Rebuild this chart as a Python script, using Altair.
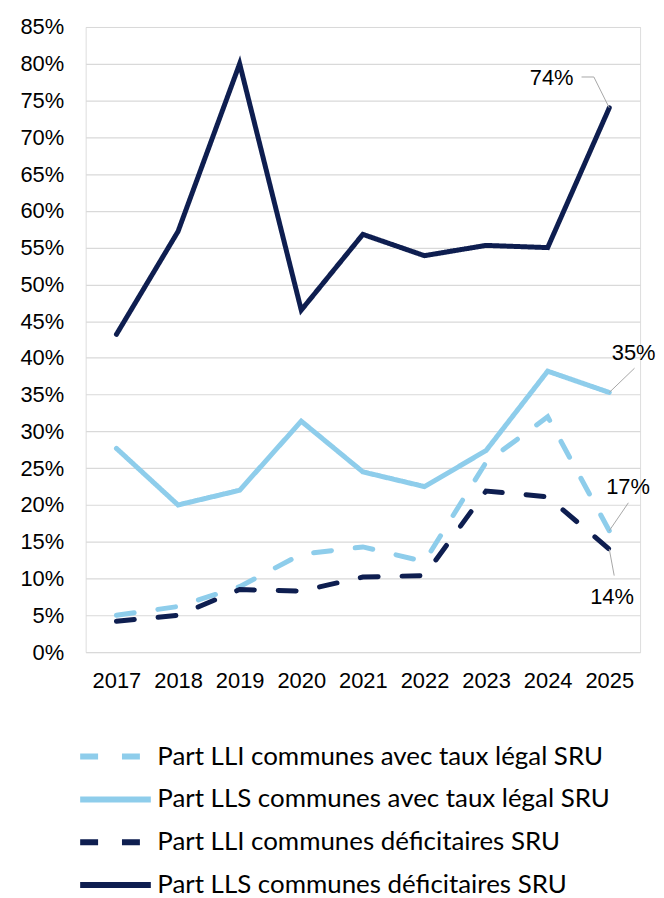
import altair as alt
import pandas as pd

years = [2017, 2018, 2019, 2020, 2021, 2022, 2023, 2024, 2025]
series_names = [
    "Part LLI communes avec taux légal SRU",
    "Part LLS communes avec taux légal SRU",
    "Part LLI communes déficitaires SRU",
    "Part LLS communes déficitaires SRU",
]
lli_legal = [5.0, 6.2, 8.9, 13.3, 14.3, 12.3, 25.8, 32.0, 16.5]
lls_legal = [27.7, 20.0, 22.0, 31.4, 24.5, 22.5, 27.4, 38.2, 35.3]
lli_def = [4.2, 5.0, 8.5, 8.3, 10.2, 10.4, 21.9, 21.1, 14.0]
lls_def = [43.2, 57.2, 80.0, 46.5, 56.8, 53.9, 55.3, 55.0, 74.0]
series_colors = ["#8ecdeb", "#8ecdeb", "#0e1e50", "#0e1e50"]
series_dashes = [[18, 24], [1, 0], [18, 24], [1, 0]]

label_texts = ["74%", "35%", "17%", "14%"]
label_x = [2024.42, 2025.04, 2024.95, 2024.69]
label_y = [78.1, 40.7, 22.4, 7.5]
label_align = ["right", "left", "left", "left"]

leader_group = [0, 0, 0, 1, 1, 2, 2, 3, 3]
leader_x = [2024.55, 2024.75, 2025.0, 2025.0, 2025.41, 2025.0, 2025.31, 2025.0, 2025.08]
leader_y = [78.2, 78.2, 74.0, 35.3, 38.6, 16.5, 20.3, 14.0, 10.4]

y_ticks = [round(i * 0.05, 2) for i in range(18)]

rows = []
for name, vals in zip(series_names, [lli_legal, lls_legal, lli_def, lls_def]):
    for yr, v in zip(years, vals):
        rows.append({"series": name, "year": yr, "value": v / 100})
df = pd.DataFrame(rows)

labels_df = pd.DataFrame({
    "text": label_texts,
    "x": label_x,
    "value": [v / 100 for v in label_y],
    "align": label_align,
})
leaders_df = pd.DataFrame({
    "g": leader_group,
    "x": leader_x,
    "value": [v / 100 for v in leader_y],
    "o": list(range(len(leader_x))),
})

xscale = alt.Scale(domain=[2016.5, 2025.5], nice=False, zero=False)
yscale = alt.Scale(domain=[0, 0.85], nice=False)

x_axis = alt.Axis(values=years, format="d", title=None, grid=False, domain=False,
                  ticks=False, labelPadding=19, labelFontSize=22, labelOverlap=False,
                  labelFont="Liberation Sans", labelColor="#000000")
y_axis = alt.Axis(values=y_ticks, format=".0%", title=None, grid=True, domain=False,
                  ticks=False, labelPadding=22, labelFontSize=22, labelOverlap=False,
                  labelFont="Liberation Sans", labelColor="#000000",
                  gridColor="#d9d9d9", gridWidth=1.2)

lines = alt.Chart(df).mark_line(strokeWidth=5, strokeCap="round", strokeJoin="miter").encode(
    x=alt.X("year:Q", scale=xscale, axis=x_axis),
    y=alt.Y("value:Q", scale=yscale, axis=y_axis),
    color=alt.Color("series:N", scale=alt.Scale(domain=series_names, range=series_colors),
                    legend=alt.Legend(title=None, orient="none", legendX=9, legendY=712,
                                      direction="vertical", symbolType="M-2,0H2",
                                      symbolSize=1260, symbolStrokeWidth=6,
                                      labelFont="Lato", labelFontSize=26,
                                      labelColor="#000000", labelLimit=700,
                                      labelOffset=21, rowPadding=9, padding=0)),
    strokeDash=alt.StrokeDash("series:N", scale=alt.Scale(domain=series_names, range=series_dashes),
                              legend=None),
    detail="series:N",
)

leaders = alt.Chart(leaders_df).mark_line(color="#a6a6a6", strokeWidth=1).encode(
    x=alt.X("x:Q", scale=xscale, axis=x_axis),
    y=alt.Y("value:Q", scale=yscale, axis=y_axis),
    detail="g:N",
    order="o:Q",
)

labels_right = alt.Chart(labels_df[labels_df["align"] == "right"]).mark_text(
    align="right", baseline="middle", font="Liberation Sans", fontSize=22, color="#000000"
).encode(x=alt.X("x:Q", scale=xscale, axis=x_axis),
         y=alt.Y("value:Q", scale=yscale, axis=y_axis), text="text:N")

labels_left = alt.Chart(labels_df[labels_df["align"] == "left"]).mark_text(
    align="left", baseline="middle", font="Liberation Sans", fontSize=22, color="#000000"
).encode(x=alt.X("x:Q", scale=xscale, axis=x_axis),
         y=alt.Y("value:Q", scale=yscale, axis=y_axis), text="text:N")

chart = alt.layer(lines, leaders, labels_right, labels_left).properties(
    width=557, height=628,
    padding={"left": 11, "top": 6, "right": 0, "bottom": 0},
).configure_view(stroke=None).configure(background="white")

chart.save("out.html", embed_options={"renderer": "svg", "actions": False})
